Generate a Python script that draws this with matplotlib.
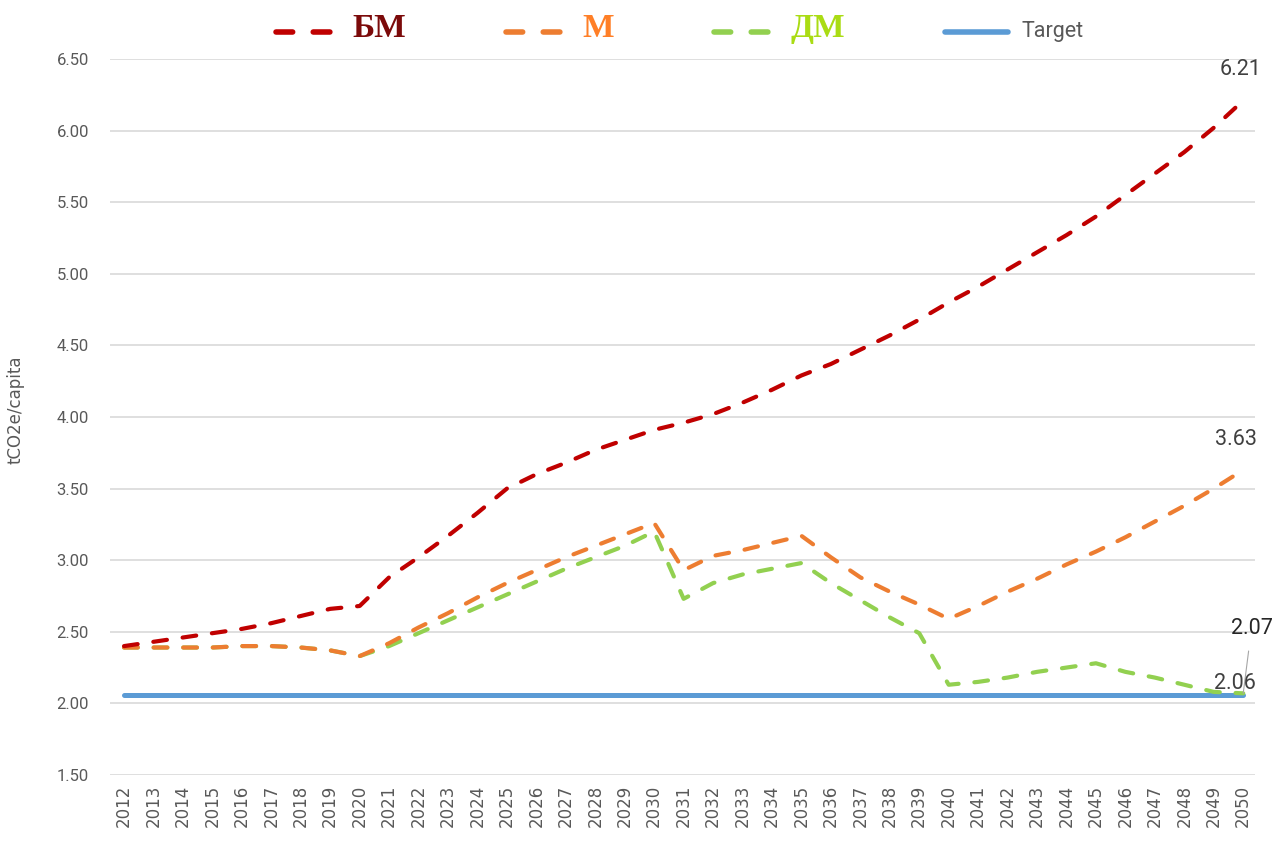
import matplotlib
matplotlib.use("Agg")
import matplotlib.pyplot as plt
import numpy as np
from matplotlib.lines import Line2D

# dados
anos = list(range(2012, 2051))
bm = [2.40, 2.43, 2.46, 2.49, 2.52, 2.56, 2.61, 2.66, 2.68, 2.88,
      3.02, 3.17, 3.33, 3.50, 3.60, 3.68, 3.77, 3.84, 3.91, 3.96,
      4.02, 4.10, 4.19, 4.29, 4.37, 4.47, 4.57, 4.68, 4.80, 4.91,
      5.03, 5.15, 5.27, 5.40, 5.55, 5.70, 5.85, 6.02, 6.21]
m = [2.39, 2.39, 2.39, 2.39, 2.40, 2.40, 2.39, 2.37, 2.33, 2.42,
     2.53, 2.63, 2.74, 2.84, 2.93, 3.02, 3.10, 3.18, 3.26, 2.93,
     3.03, 3.07, 3.12, 3.17, 3.02, 2.88, 2.78, 2.69, 2.59, 2.68,
     2.78, 2.87, 2.97, 3.06, 3.16, 3.27, 3.38, 3.50, 3.63]
dm = [2.39, 2.39, 2.39, 2.39, 2.40, 2.40, 2.39, 2.37, 2.33, 2.40,
      2.49, 2.58, 2.67, 2.76, 2.85, 2.94, 3.02, 3.10, 3.20, 2.73,
      2.84, 2.90, 2.94, 2.98, 2.84, 2.72, 2.60, 2.49, 2.13, 2.15,
      2.18, 2.22, 2.25, 2.28, 2.22, 2.18, 2.13, 2.08, 2.07]
target = [2.06] * len(anos)

series_names = ["БМ", "М", "ДМ", "Target"]
line_colors = ["#C00000", "#ED7D31", "#92D050", "#5B9BD5"]
legend_text_colors = ["#7B0A0A", "#FF7F27", "#AADC14", "#595959"]

fig = plt.figure(figsize=(12.78, 8.44), dpi=100)
ax = fig.add_axes([0.086, 0.0818, 0.896, 0.8483])

x = np.arange(len(anos))
dash_kw = dict(linewidth=3, linestyle=(0, (3.3, 3.8)), dash_capstyle="round",
               clip_on=False, zorder=3)

ax.plot(x, target, color=line_colors[3], linewidth=3.6, solid_capstyle="round",
        clip_on=False, zorder=2)
ax.plot(x, dm, color=line_colors[2], **dash_kw)
ax.plot(x, m, color=line_colors[1], **dash_kw)
ax.plot(x, bm, color=line_colors[0], **dash_kw)

# eixos
yt = np.arange(1.5, 6.51, 0.5)
ax.set_xlim(-0.48, 38.4)
ax.set_ylim(1.5, 6.5)
ax.set_yticks(yt)
ax.set_yticklabels([f"{v:.2f}" for v in yt])
ax.set_xticks(x)
ax.set_xticklabels([str(a) for a in anos], rotation=90)
ax.tick_params(axis="both", length=0, labelcolor="#595959")
ax.tick_params(axis="y", pad=15, labelsize=12)
ax.tick_params(axis="x", pad=7, labelsize=12)
for lab in ax.get_yticklabels():
    lab.set_fontfamily("Roboto")
for lab in ax.get_xticklabels():
    lab.set_fontfamily("DejaVu Sans")
ax.grid(axis="y", color="#D9D9D9", linewidth=1.2)
ax.set_axisbelow(True)
for s in ax.spines.values():
    s.set_visible(False)
ax.set_ylabel("tCO2e/capita", fontsize=12, color="#595959", family="DejaVu Sans", labelpad=4)
ax.yaxis.set_label_coords(-0.075, 0.51)

# rótulos finais
lab_kw = dict(textcoords="offset points", ha="center", va="center",
              fontsize=15.5, family="Roboto")
ax.annotate(f"{bm[-1]:.2f}", (x[-1], bm[-1]), xytext=(-2, 22), color="#404040", **lab_kw)
ax.annotate(f"{m[-1]:.2f}", (x[-1], m[-1]), xytext=(-5, 22), color="#404040", **lab_kw)
ax.annotate(f"{dm[-1]:.2f}", (x[-1], dm[-1]), xytext=(6, 47), color="#262626",
            arrowprops=dict(arrowstyle="-", color="#A6A6A6", lw=0.8,
                            shrinkA=7, shrinkB=0), **lab_kw)
ax.annotate(f"{target[-1]:.2f}", (x[-1], target[-1]), xytext=(-6, 8), color="#404040", **lab_kw)

# legenda
dash_leg = (0, (3, 3.7))
handles = [
    Line2D([], [], color=line_colors[0], linewidth=4, linestyle=dash_leg, dash_capstyle="round"),
    Line2D([], [], color=line_colors[1], linewidth=4, linestyle=dash_leg, dash_capstyle="round"),
    Line2D([], [], color=line_colors[2], linewidth=4, linestyle=dash_leg, dash_capstyle="round"),
    Line2D([], [], color=line_colors[3], linewidth=4, solid_capstyle="round"),
]
leg = fig.legend(handles, series_names, loc="center", bbox_to_anchor=(0.532, 0.966),
                 ncol=4, frameon=False, handlelength=4.5, handletextpad=1.0,
                 columnspacing=7.2)
for txt, col, name in zip(leg.get_texts(), legend_text_colors, series_names):
    txt.set_color(col)
    if name == "Target":
        txt.set_family("Roboto")
        txt.set_fontsize(15.5)
    else:
        txt.set_family("Liberation Serif")
        txt.set_fontweight("bold")
        txt.set_fontsize(24)

fig.savefig("out.png", dpi=100)
